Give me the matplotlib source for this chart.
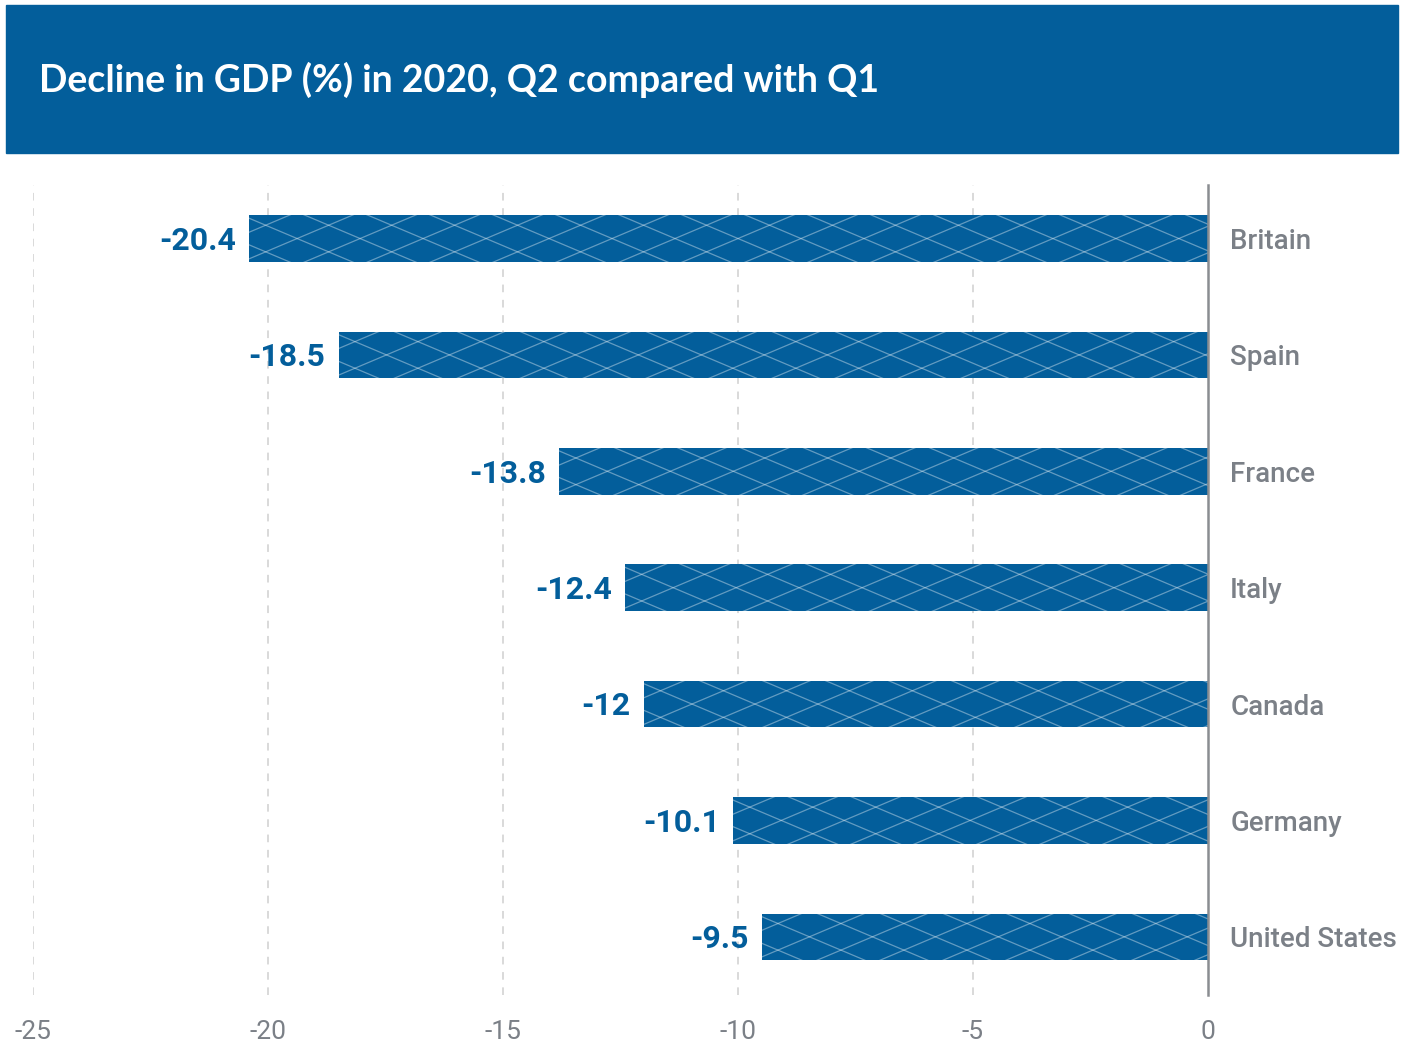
import numpy as np
import matplotlib
matplotlib.use("Agg")
import matplotlib.pyplot as plt
from matplotlib.patches import Rectangle
from matplotlib.collections import LineCollection

countries = ["Britain", "Spain", "France", "Italy", "Canada", "Germany", "United States"]
values = [-20.4, -18.5, -13.8, -12.4, -12, -10.1, -9.5]
value_labels = ["-20.4", "-18.5", "-13.8", "-12.4", "-12", "-10.1", "-9.5"]
xticks = [-25, -20, -15, -10, -5, 0]

BLUE = "#035e9b"
GRAY = "#7b8087"
cond = ["Roboto", "DejaVu Sans"]

fig = plt.figure(figsize=(14.04, 10.49), dpi=100)

# title banner
fig.patches.append(Rectangle((6 / 1404, 1 - 153 / 1049), 1392 / 1404, 148 / 1049,
                             transform=fig.transFigure, color=BLUE, zorder=0))
fig.text(39 / 1404, 1 - 80 / 1049, "Decline in GDP (%) in 2020, Q2 compared with Q1",
         color="white", fontsize=27, fontweight="bold", family=["Lato", "DejaVu Sans"],
         va="center", ha="left")

ax = fig.add_axes([33 / 1404, 54 / 1049, 1175 / 1404, 810 / 1049])
y = np.arange(len(countries))
h = 0.4
bars = ax.barh(y, values, height=h, color=BLUE, zorder=2)

# diamond cross pattern on each bar
a = 5.86   # dx per dy in data units
d = 1.34
for i, (b, v) in enumerate(zip(bars, values)):
    segs = []
    for c in np.arange(v - 3, 3, d):
        segs.append([(c - a * h, i - h), (c + a * h, i + h)])
        segs.append([(c + a * h, i - h), (c - a * h, i + h)])
    lc = LineCollection(segs, colors="white", linewidths=0.9, alpha=0.38, zorder=3)
    ax.add_collection(lc)
    lc.set_clip_path(b)

for i, (v, lab) in enumerate(zip(values, value_labels)):
    ax.text(v - 0.28, i + 0.02, lab, ha="right", va="center", color=BLUE,
            fontsize=23, fontweight="bold", family=["Roboto", "DejaVu Sans"])

ax.set_xlim(-25, 0)
ax.set_ylim(6.5, -0.46)
ax.set_xticks(xticks)
ax.set_xticklabels([str(t) for t in xticks], family=cond, fontsize=19, color=GRAY)
ax.yaxis.tick_right()
ax.set_yticks(y)
ax.set_yticklabels(countries, family=cond, fontsize=20, color=GRAY, fontweight="medium")
ax.tick_params(axis="both", length=0)
ax.tick_params(axis="x", pad=18)
ax.tick_params(axis="y", pad=16)

for s in ["top", "left", "bottom"]:
    ax.spines[s].set_visible(False)
ax.spines["right"].set_color("#8a8d91")
ax.spines["right"].set_linewidth(1.8)
ax.spines["right"].set_zorder(4)

for t in xticks[:-1]:
    ax.axvline(t, color="#d0d0d0", linestyle=(0, (5, 5)), linewidth=1.1, zorder=1)

fig.savefig("out.png", dpi=100)
